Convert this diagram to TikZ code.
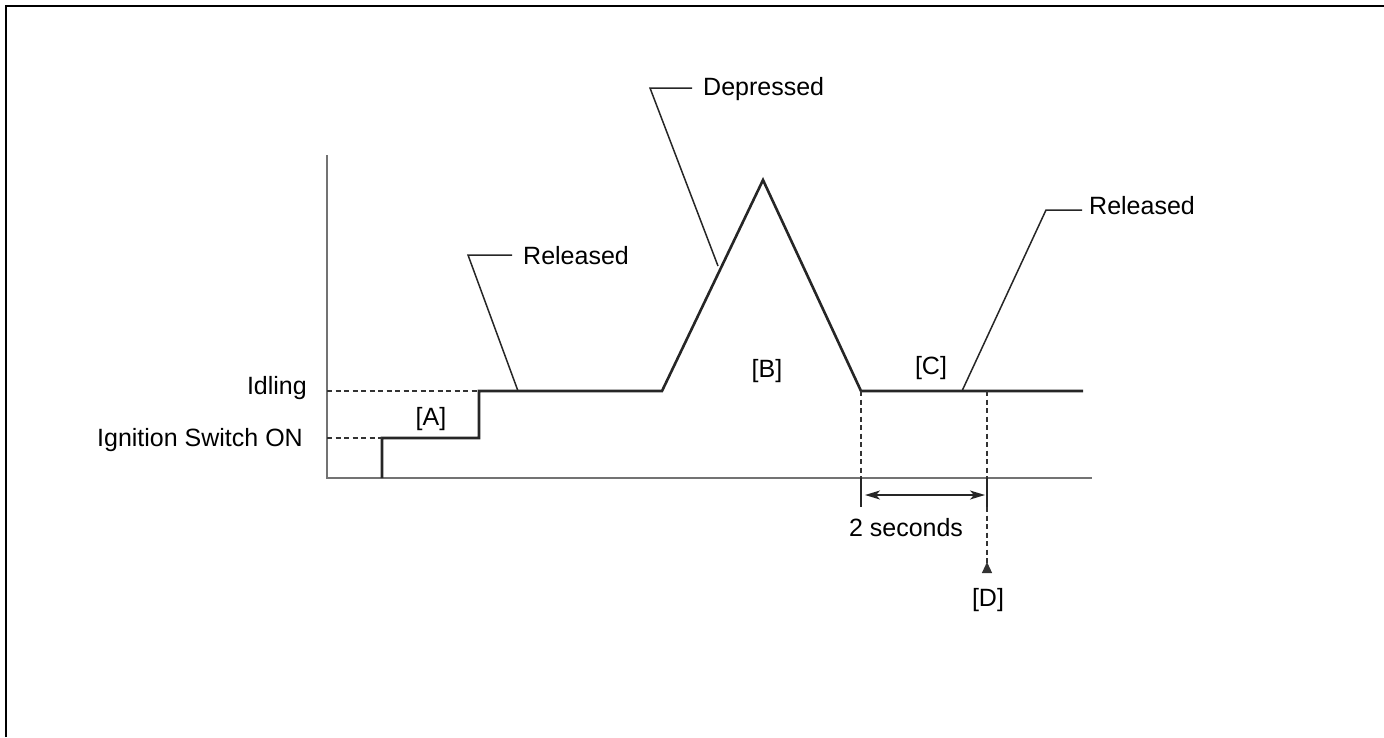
\documentclass[tikz,border=0pt]{standalone}
\usepackage{fontspec}
\setmainfont{Liberation Sans}
\usetikzlibrary{arrows.meta}
\begin{document}
\begin{tikzpicture}[x=1pt,y=-1pt,
  lbl/.style={inner sep=0pt,text height=19pt,text depth=1pt,font=\fontsize{25}{30}\selectfont},
  axisline/.style={draw=black!55,line width=1.4pt},
  signal/.style={draw=black!85,line width=2.6pt,line join=miter},
  leader/.style={draw=black!85,line width=1.5pt},
  guide/.style={draw=black!80,line width=1.2pt,dash pattern=on 5pt off 3.5pt},
  dimarrow/.style={draw=black!85,line width=1.5pt,{Stealth[length=15pt,width=9pt,inset=4pt]}-{Stealth[length=15pt,width=9pt,inset=4pt]}}]
\useasboundingbox (0,0) rectangle (1384,737);
% frame
\draw[line width=2.6pt] (6,737) -- (6,6) -- (1384,6);
% axes
\coordinate (ytop) at (327,155);
\coordinate (orig) at (327,478);
\coordinate (xend) at (1092,478);
\draw[axisline] (ytop) -- (orig) -- (xend);
% signal
\coordinate (s0) at (382,478);
\coordinate (s1) at (382,438);
\coordinate (s2) at (479,438);
\coordinate (s3) at (479,391);
\coordinate (s4) at (662,391);
\coordinate (peak) at (763,180);
\coordinate (s6) at (861,391);
\coordinate (s7) at (1083,391);
\draw[signal] (s0) -- (s1) -- (s2) -- (s3) -- (s4) -- (peak) -- (s6) -- (s7);
% dashed level guides
\coordinate (ign) at (327,438);
\coordinate (idl) at (327,391);
\draw[guide] (ign) -- (s1);
\draw[guide] (idl) -- (s3);
% texts
\node[lbl,anchor=east] (tIdl) at (307,385) {Idling};
\node[lbl,anchor=east] (tIgn) at (303,437) {Ignition Switch ON};
\node[lbl] (tA) at (431,416) {[A]};
\node[lbl] (tB) at (767,368) {[B]};
\node[lbl] (tC) at (931,365) {[C]};
\node[lbl] (tD) at (988,597) {[D]};
\node[lbl] (tSec) at (906,527) {2 seconds};
\node[lbl,anchor=west] (tRel1) at (523,255) {Released};
\node[lbl,anchor=west] (tDep) at (703,86) {Depressed};
\node[lbl,anchor=west] (tRel2) at (1089,205) {Released};
% leaders
\coordinate (r1a) at (518,391);
\coordinate (r1b) at (468,255);
\coordinate (r1c) at (512,255);
\draw[leader] (r1a) -- (r1b) -- (r1c);
\coordinate (da) at (718,266);
\coordinate (db) at (650,88);
\coordinate (dc) at (692,88);
\draw[leader] (da) -- (db) -- (dc);
\coordinate (r2a) at (962,391);
\coordinate (r2b) at (1046,210);
\coordinate (r2c) at (1082,210);
\draw[leader] (r2a) -- (r2b) -- (r2c);
% time markers
\coordinate (m1top) at (861,391);
\coordinate (m1ax) at (861,478);
\coordinate (m1bot) at (861,507);
\draw[guide] (m1top) -- (m1ax);
\draw[leader] (m1ax) -- (m1bot);
\coordinate (m2top) at (987,391);
\coordinate (m2ax) at (987,478);
\coordinate (m2mid) at (987,507);
\coordinate (m2bot) at (987,573);
\draw[guide] (m2top) -- (m2ax);
\draw[leader] (m2ax) -- (m2mid);
\draw[guide,-{Triangle[reversed,length=11pt,width=10pt]}] (m2mid) -- (m2bot);
% dimension
\coordinate (dl) at (865,495);
\coordinate (dr) at (985,495);
\draw[dimarrow] (dl) -- (dr);
\end{tikzpicture}
\end{document}
